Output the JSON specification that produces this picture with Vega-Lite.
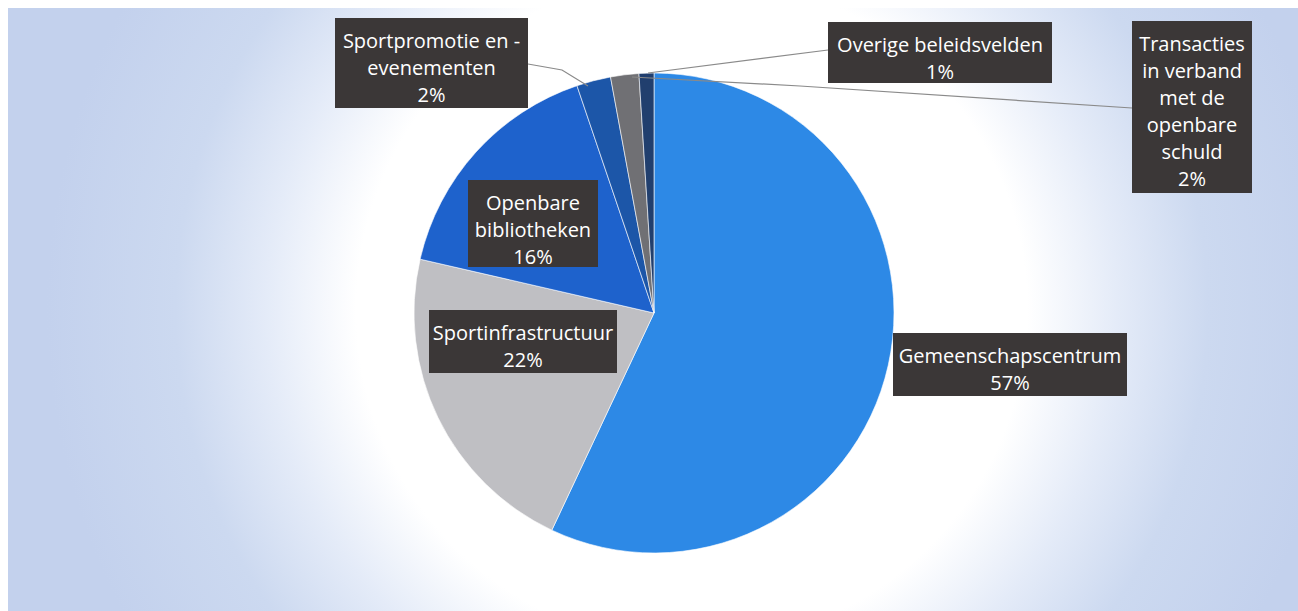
{
  "$schema": "https://vega.github.io/schema/vega-lite/v6.json",
  "width": 1290,
  "height": 603,
  "autosize": {"type": "none"},
  "padding": {"left": 8, "top": 8, "right": 0, "bottom": 0},
  "background": "#ffffff",
  "config": {
    "view": {
      "stroke": null,
      "fill": {
        "gradient": "radial",
        "x1": 0.53, "y1": 0.5, "r1": 0,
        "x2": 0.53, "y2": 0.5, "r2": 0.5,
        "stops": [
          {"offset": 0, "color": "#ffffff"},
          {"offset": 0.52, "color": "#ffffff"},
          {"offset": 0.66, "color": "#e4ebf8"},
          {"offset": 0.8, "color": "#ccd9f0"},
          {"offset": 1, "color": "#c3d1ed"}
        ]
      }
    }
  },
  "datasets": {
    "slices": [
      {"category": "Gemeenschapscentrum", "value": 57.0, "order": 1},
      {"category": "Sportinfrastructuur", "value": 21.6, "order": 2},
      {"category": "Openbare bibliotheken", "value": 16.2, "order": 3},
      {"category": "Sportpromotie en -evenementen", "value": 2.3, "order": 4},
      {"category": "Transacties in verband met de openbare schuld", "value": 1.9, "order": 5},
      {"category": "Overige beleidsvelden", "value": 1.0, "order": 6}
    ],
    "labels": [
      {"category": "Gemeenschapscentrum", "x1": 893, "x2": 1127, "y1": 333, "y2": 396, "cx": 1010, "lines": ["Gemeenschapscentrum", "57%"]},
      {"category": "Sportinfrastructuur", "x1": 429, "x2": 617, "y1": 310, "y2": 373, "cx": 523, "lines": ["Sportinfrastructuur", "22%"]},
      {"category": "Openbare bibliotheken", "x1": 468, "x2": 598, "y1": 180, "y2": 267, "cx": 533, "lines": ["Openbare", "bibliotheken", "16%"]},
      {"category": "Sportpromotie en -evenementen", "x1": 335, "x2": 528, "y1": 18, "y2": 108, "cx": 431.5, "lines": ["Sportpromotie en -", "evenementen", "2%"]},
      {"category": "Overige beleidsvelden", "x1": 828, "x2": 1052, "y1": 22, "y2": 83, "cx": 940, "lines": ["Overige beleidsvelden", "1%"]},
      {"category": "Transacties in verband met de openbare schuld", "x1": 1132, "x2": 1252, "y1": 21, "y2": 193, "cx": 1192, "lines": ["Transacties", "in verband", "met de", "openbare", "schuld", "2%"]}
    ],
    "leaders": [
      {"id": "Sportpromotie", "ord": 1, "x": 528, "y": 64},
      {"id": "Sportpromotie", "ord": 2, "x": 562, "y": 70},
      {"id": "Sportpromotie", "ord": 3, "x": 588, "y": 86},
      {"id": "Overige", "ord": 1, "x": 828, "y": 50},
      {"id": "Overige", "ord": 2, "x": 648, "y": 73},
      {"id": "Transacties", "ord": 1, "x": 1132, "y": 108},
      {"id": "Transacties", "ord": 2, "x": 800, "y": 86},
      {"id": "Transacties", "ord": 3, "x": 632, "y": 77}
    ]
  },
  "layer": [
    {
      "data": {"name": "slices"},
      "mark": {"type": "arc", "outerRadius": 240, "yOffset": 3.5, "xOffset": 1, "stroke": "#ffffff", "strokeWidth": 1, "strokeOpacity": 0.6},
      "encoding": {
        "theta": {"field": "value", "type": "quantitative", "stack": true},
        "order": {"field": "order", "type": "quantitative"},
        "color": {
          "field": "category",
          "type": "nominal",
          "legend": null,
          "scale": {
            "domain": ["Gemeenschapscentrum", "Sportinfrastructuur", "Openbare bibliotheken", "Sportpromotie en -evenementen", "Transacties in verband met de openbare schuld", "Overige beleidsvelden"],
            "range": ["#2d89e6", "#bfbfc3", "#1e62cc", "#1c56a8", "#707074", "#213f6e"]
          }
        }
      }
    },
    {
      "data": {"name": "leaders"},
      "mark": {"type": "line", "color": "#8a8a8a", "strokeWidth": 1.2},
      "encoding": {
        "x": {"field": "x", "type": "quantitative", "axis": null, "scale": {"domain": [8, 1298], "nice": false, "zero": false}},
        "y": {"field": "y", "type": "quantitative", "axis": null, "scale": {"domain": [8, 611], "nice": false, "zero": false, "reverse": true}},
        "detail": {"field": "id", "type": "nominal"},
        "order": {"field": "ord", "type": "quantitative"}
      }
    },
    {
      "data": {"name": "labels"},
      "mark": {"type": "rect", "color": "#000000", "opacity": 0.18, "xOffset": 3, "yOffset": 3},
      "encoding": {
        "x": {"field": "x1", "type": "quantitative", "axis": null, "scale": {"domain": [8, 1298], "nice": false, "zero": false}},
        "x2": {"field": "x2"},
        "y": {"field": "y1", "type": "quantitative", "axis": null, "scale": {"domain": [8, 611], "nice": false, "zero": false, "reverse": true}},
        "y2": {"field": "y2"}
      }
    },
    {
      "data": {"name": "labels"},
      "mark": {"type": "rect", "color": "#3b3737", "opacity": 1},
      "encoding": {
        "x": {"field": "x1", "type": "quantitative", "axis": null, "scale": {"domain": [8, 1298], "nice": false, "zero": false}},
        "x2": {"field": "x2"},
        "y": {"field": "y1", "type": "quantitative", "axis": null, "scale": {"domain": [8, 611], "nice": false, "zero": false, "reverse": true}},
        "y2": {"field": "y2"}
      }
    },
    {
      "data": {"name": "labels"},
      "mark": {"type": "text", "color": "#ffffff", "font": "Open Sans", "fontSize": 20, "lineHeight": 27, "align": "center", "baseline": "alphabetic", "dy": 30},
      "encoding": {
        "x": {"field": "cx", "type": "quantitative", "axis": null, "scale": {"domain": [8, 1298], "nice": false, "zero": false}},
        "y": {"field": "y1", "type": "quantitative", "axis": null, "scale": {"domain": [8, 611], "nice": false, "zero": false, "reverse": true}},
        "text": {"field": "lines"}
      }
    }
  ]
}
